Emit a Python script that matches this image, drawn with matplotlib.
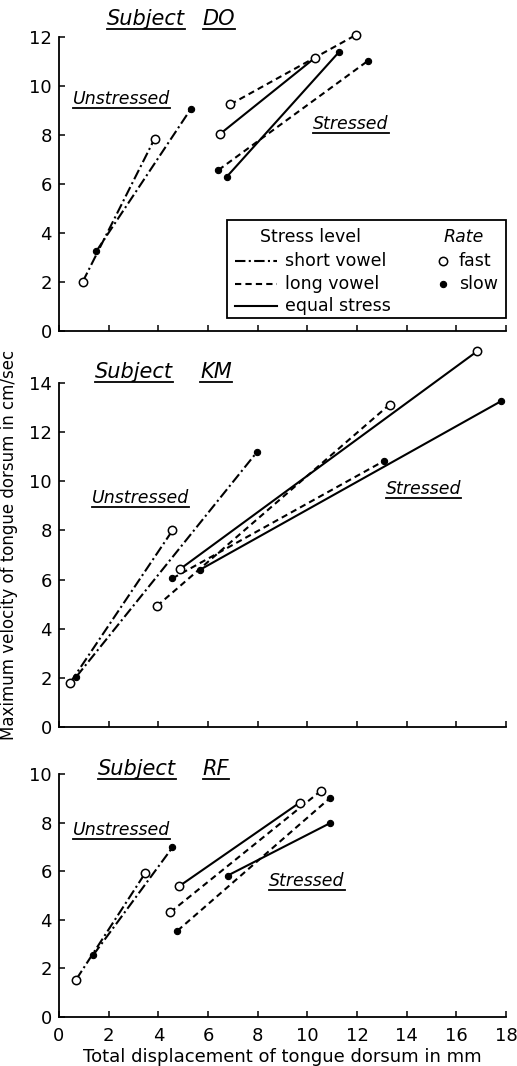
import matplotlib
matplotlib.use("Agg")
import matplotlib.pyplot as plt
from matplotlib.lines import Line2D
from matplotlib.patches import Rectangle

plt.rcParams['font.family'] = ['DejaVu Sans']

# ---------------- data ----------------
# Subject DO
DO_short_fast_x = [0.95, 3.85]; DO_short_fast_y = [2.0, 7.85]
DO_short_slow_x = [1.5, 5.3];   DO_short_slow_y = [3.25, 9.05]
DO_long_fast_x = [6.9, 11.95];  DO_long_fast_y = [9.25, 12.08]
DO_long_slow_x = [6.42, 12.43]; DO_long_slow_y = [6.57, 11.02]
DO_equal_fast_x = [6.47, 10.32]; DO_equal_fast_y = [8.03, 11.16]
DO_equal_slow_x = [6.76, 11.26]; DO_equal_slow_y = [6.3, 11.37]

# Subject KM
KM_short_fast_x = [0.45, 4.57]; KM_short_fast_y = [1.8, 8.0]
KM_short_slow_x = [0.7, 7.98];  KM_short_slow_y = [2.05, 11.2]
KM_long_fast_x = [3.94, 13.31]; KM_long_fast_y = [4.92, 13.12]
KM_long_slow_x = [4.57, 13.09]; KM_long_slow_y = [6.05, 10.83]
KM_equal_fast_x = [4.88, 16.85]; KM_equal_fast_y = [6.43, 15.3]
KM_equal_slow_x = [5.66, 17.8];  KM_equal_slow_y = [6.39, 13.26]

# Subject RF
RF_short_fast_x = [0.69, 3.47]; RF_short_fast_y = [1.54, 5.92]
RF_short_slow_x = [1.38, 4.57]; RF_short_slow_y = [2.55, 6.98]
RF_long_fast_x = [4.48, 10.55]; RF_long_fast_y = [4.31, 9.31]
RF_long_slow_x = [4.77, 10.9];  RF_long_slow_y = [3.55, 9.0]
RF_equal_fast_x = [4.85, 9.69]; RF_equal_fast_y = [5.39, 8.82]
RF_equal_slow_x = [6.79, 10.9]; RF_equal_slow_y = [5.82, 7.97]

x_ticks = [0, 2, 4, 6, 8, 10, 12, 14, 16, 18]
subjects = ["DO", "KM", "RF"]
y_max = [12, 14, 10]
y_ticks = [[0, 2, 4, 6, 8, 10, 12], [0, 2, 4, 6, 8, 10, 12, 14], [0, 2, 4, 6, 8, 10]]

series = {
    "DO": [("short", "fast", DO_short_fast_x, DO_short_fast_y),
           ("short", "slow", DO_short_slow_x, DO_short_slow_y),
           ("long", "fast", DO_long_fast_x, DO_long_fast_y),
           ("long", "slow", DO_long_slow_x, DO_long_slow_y),
           ("equal", "fast", DO_equal_fast_x, DO_equal_fast_y),
           ("equal", "slow", DO_equal_slow_x, DO_equal_slow_y)],
    "KM": [("short", "fast", KM_short_fast_x, KM_short_fast_y),
           ("short", "slow", KM_short_slow_x, KM_short_slow_y),
           ("long", "fast", KM_long_fast_x, KM_long_fast_y),
           ("long", "slow", KM_long_slow_x, KM_long_slow_y),
           ("equal", "fast", KM_equal_fast_x, KM_equal_fast_y),
           ("equal", "slow", KM_equal_slow_x, KM_equal_slow_y)],
    "RF": [("short", "fast", RF_short_fast_x, RF_short_fast_y),
           ("short", "slow", RF_short_slow_x, RF_short_slow_y),
           ("long", "fast", RF_long_fast_x, RF_long_fast_y),
           ("long", "slow", RF_long_slow_x, RF_long_slow_y),
           ("equal", "fast", RF_equal_fast_x, RF_equal_fast_y),
           ("equal", "slow", RF_equal_slow_x, RF_equal_slow_y)],
}

LS = {"short": (0, (5, 1.6, 1, 1.6)), "long": (0, (3, 2)), "equal": "-"}
LW = 1.5

def marker_kw(rate):
    if rate == "fast":
        return dict(marker='o', ms=6, mfc='white', mec='black', mew=1.1)
    return dict(marker='o', ms=4.5, mfc='black', mec='black', mew=0.8)

# ---------------- layout (pixels of a 517x1066 image) ----------------
W, H = 517, 1066
fig = plt.figure(figsize=(W / 100, H / 100), dpi=100)
ax_left, ax_right = 59, 506
panel_px = [(37, 331), (383, 727), (774, 1017)]  # top, bottom pixel rows

axes = []
for (top, bot) in panel_px:
    ax = fig.add_axes([ax_left / W, 1 - bot / H, (ax_right - ax_left) / W, (bot - top) / H])
    axes.append(ax)

# label positions (data coords): subject word 1, subject word 2, Unstressed, Stressed
label_pos = {
    "DO": [(1.94, 12.49), (5.78, 12.49), (0.56, 9.27), (10.24, 8.24)],
    "KM": [(1.45, 14.2), (5.68, 14.2), (1.33, 9.12), (13.15, 9.48)],
    "RF": [(1.57, 9.96), (5.78, 9.96), (0.56, 7.49), (8.47, 5.39)],
}

underlined = []
for i, (ax, subj) in enumerate(zip(axes, subjects)):
    for style, rate, xs, ys in series[subj]:
        ax.plot(xs, ys, color='black', lw=LW, linestyle=LS[style],
                solid_capstyle='butt', dash_capstyle='butt', zorder=2, clip_on=False)
        ax.plot(xs, ys, linestyle='none', zorder=3, clip_on=False, **marker_kw(rate))
    ax.set_xlim(0, 18)
    ax.set_ylim(0, y_max[i])
    ax.set_xticks(x_ticks)
    ax.set_yticks(y_ticks[i])
    for s in ("top", "right"):
        ax.spines[s].set_visible(False)
    for s in ("left", "bottom"):
        ax.spines[s].set_linewidth(1.3)
    ax.tick_params(direction='in', length=4, width=1.1, labelsize=13, pad=5)
    if i < 2:
        ax.tick_params(axis='x', labelbottom=False)
    else:
        ax.tick_params(axis='x', pad=7)

    p = label_pos[subj]
    t1 = ax.text(p[0][0], p[0][1], "Subject", fontsize=15, style='italic', va='baseline', ha='left', clip_on=False)
    t2 = ax.text(p[1][0], p[1][1], subj, fontsize=15, style='italic', va='baseline', ha='left', clip_on=False)
    t3 = ax.text(p[2][0], p[2][1], "Unstressed", fontsize=12.5, style='italic', va='baseline', ha='left')
    t4 = ax.text(p[3][0], p[3][1], "Stressed", fontsize=12.5, style='italic', va='baseline', ha='left')
    underlined += [(ax, t1, p[0]), (ax, t2, p[1]), (ax, t3, p[2]), (ax, t4, p[3])]

axes[2].set_xlabel("Total displacement of tongue dorsum in mm", fontsize=13, labelpad=2)
fig.text(9 / W, 1 - 545 / H, "Maximum velocity of tongue dorsum in cm/sec",
         rotation=90, fontsize=12, ha='center', va='center')

# ---------------- legend box in the top panel ----------------
ax = axes[0]
ax.add_patch(Rectangle((6.77, 0.53), 18.0 - 6.77, 4.53 - 0.53, fill=False,
                       edgecolor='black', lw=1.3, zorder=4, clip_on=False))
ax.text(8.1, 3.84, "Stress level", fontsize=12.5, va='center', ha='left')
ax.text(15.48, 3.84, "Rate", fontsize=12.5, style='italic', va='center', ha='left')
leg_rows = [("short", "short vowel", 2.86), ("long", "long vowel", 1.92), ("equal", "equal stress", 1.02)]
for style, lab, yy in leg_rows:
    ax.add_line(Line2D([7.1, 8.79], [yy, yy], color='black', lw=LW, linestyle=LS[style],
                       dash_capstyle='butt'))
    ax.text(9.11, yy, lab, fontsize=12.5, va='center', ha='left')
for rate, yy in (("fast", 2.86), ("slow", 1.92)):
    ax.plot([15.48], [yy], linestyle='none', **marker_kw(rate))
    ax.text(16.09, yy, rate, fontsize=12.5, va='center', ha='left')

# ---------------- underlines ----------------
fig.canvas.draw()
renderer = fig.canvas.get_renderer()
inv = fig.transFigure.inverted()
for ax, t, pos in underlined:
    bb = t.get_window_extent(renderer)
    base = ax.transData.transform(pos)[1]
    yline = base - 4
    (fx0, fy), (fx1, _) = inv.transform([(bb.x0, yline), (bb.x1, yline)])
    fig.add_artist(Line2D([fx0, fx1], [fy, fy], transform=fig.transFigure,
                          color='black', lw=1.3))

fig.savefig("out.png", dpi=100)
